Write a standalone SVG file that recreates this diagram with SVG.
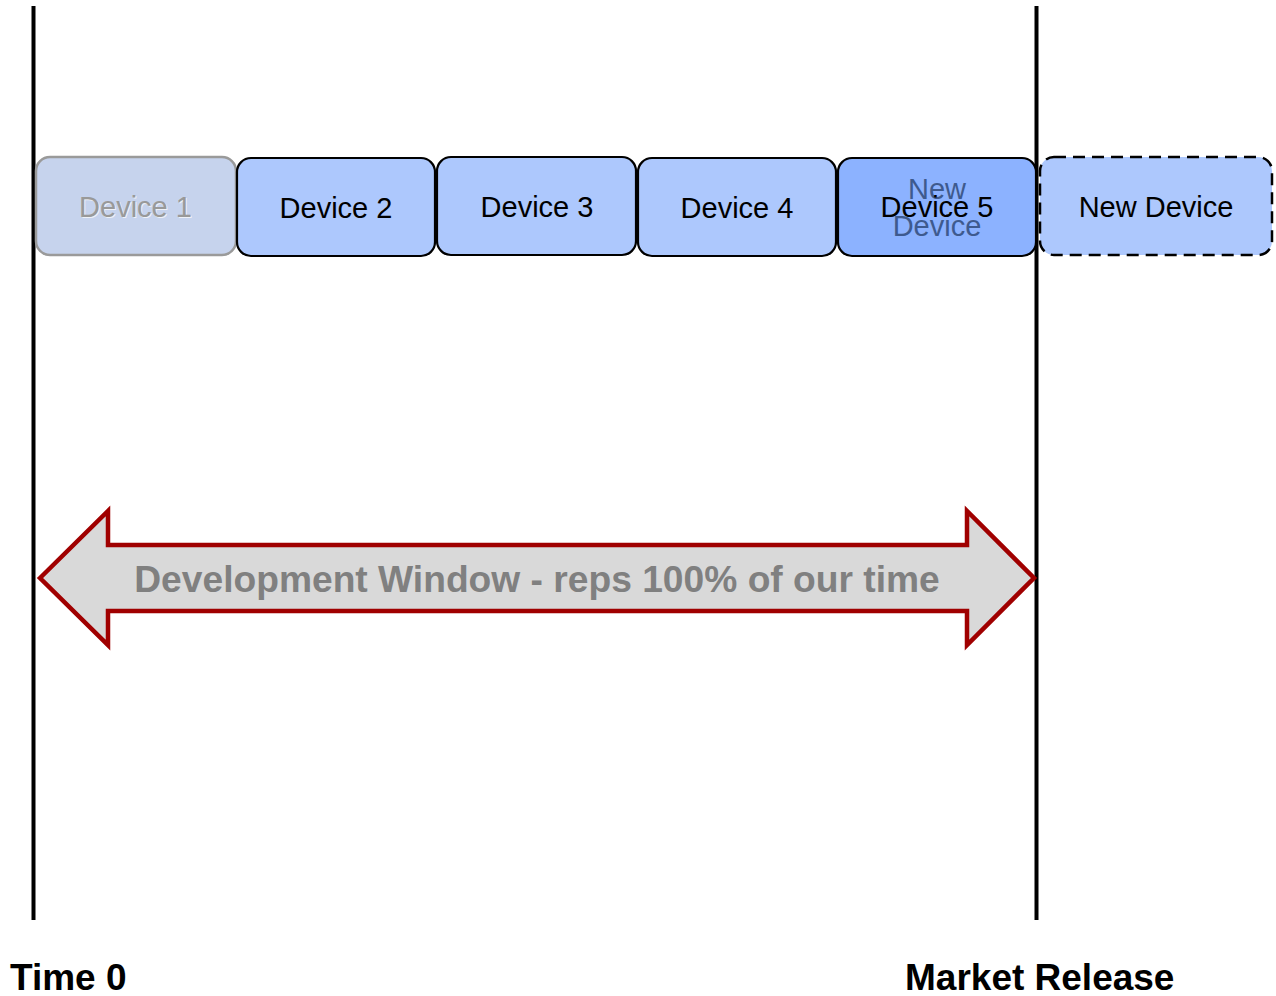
<svg xmlns="http://www.w3.org/2000/svg" width="1276" height="996" viewBox="0 0 1276 996">
  <style>
    .box { fill: #adc8fd; stroke: #000; stroke-width: 2.2; }
    .lbl { font-family: "Liberation Sans", Arial, sans-serif; font-size: 29px; text-anchor: middle; fill: #000; }
    .axis { stroke: #000; stroke-width: 4; }
    .foot { font-family: "Liberation Sans", Arial, sans-serif; font-size: 37px; font-weight: bold; fill: #000; }
  </style>
  <rect width="1276" height="996" fill="#fff"/>

  <!-- timeline boundaries -->
  <g id="boundaries">
    <line class="axis" x1="33.5" y1="6" x2="33.5" y2="920"/>
    <line class="axis" x1="1036.5" y1="6" x2="1036.5" y2="920"/>
  </g>

  <!-- development window double arrow -->
  <g id="dev-window">
    <polygon points="40,578 108,511 108,545 967,545 967,511 1034,578 967,645 967,611 108,611 108,645" fill="#d9d9d9" stroke="#a00000" stroke-width="4.5" stroke-linejoin="miter"/>
    <text x="537" y="592" font-family="Liberation Sans, Arial, sans-serif" font-size="37.2" font-weight="bold" fill="#808080" text-anchor="middle">Development Window - reps 100% of our time</text>
  </g>

  <!-- device boxes -->
  <g id="device-1">
    <rect x="36" y="157" width="200" height="98" rx="14" fill="#c6d3ed" stroke="#9a9a9a" stroke-width="2.5"/>
    <text class="lbl" x="136.5" y="218" style="fill:#eef1f7">Device 1</text>
    <text class="lbl" x="135.5" y="217" style="fill:#999">Device 1</text>
  </g>
  <g id="device-2">
    <rect class="box" x="237" y="158" width="198" height="98" rx="14"/>
    <text class="lbl" x="336" y="218">Device 2</text>
  </g>
  <g id="device-3">
    <rect class="box" x="437" y="157" width="199" height="98" rx="14"/>
    <text class="lbl" x="537" y="217">Device 3</text>
  </g>
  <g id="device-4">
    <rect class="box" x="638" y="158" width="198" height="98" rx="14"/>
    <text class="lbl" x="737" y="218">Device 4</text>
  </g>
  <g id="device-5">
    <rect x="838" y="158" width="198" height="98" rx="14" fill="#8cb2ff" stroke="#000" stroke-width="2.2"/>
    <text class="lbl" x="937" y="199" style="fill:#3e5a8e">New</text>
    <text class="lbl" x="937" y="236" style="fill:#3e5a8e">Device</text>
    <text class="lbl" x="937" y="217">Device 5</text>
  </g>
  <g id="new-device">
    <rect x="1040" y="157" width="232" height="98" rx="14" fill="#adc8fd" stroke="#000" stroke-width="2.5" stroke-dasharray="12,7"/>
    <text class="lbl" x="1156" y="217">New Device</text>
  </g>

  <!-- axis captions -->
  <g id="captions">
    <text class="foot" x="10" y="990">Time 0</text>
    <text class="foot" x="905" y="990">Market Release</text>
  </g>
</svg>
